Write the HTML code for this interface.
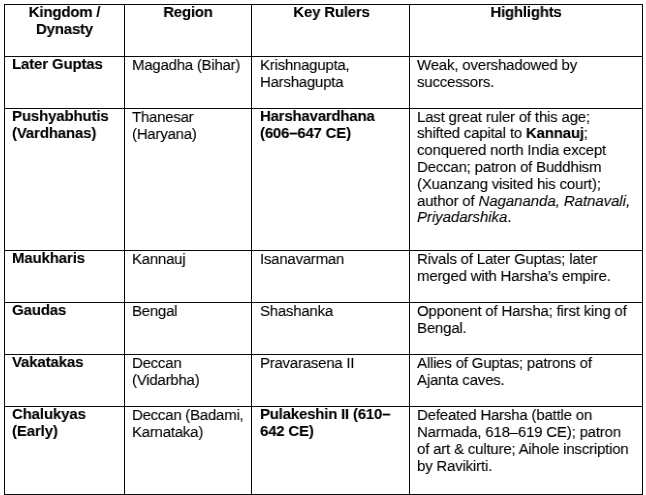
<!DOCTYPE html>
<html><head><meta charset="utf-8">
<style>
html,body{margin:0;padding:0;background:#fff;overflow:hidden;}
body{width:646px;height:495px;position:relative;overflow:hidden;font-family:"Liberation Sans",sans-serif;font-size:15.5px;line-height:17px;letter-spacing:-0.25px;color:#000;-webkit-text-stroke:0.1px #000;}
.h,.v{position:absolute;background:#0a0a0a;}
.h{left:4px;width:639px;height:1px;}
.v{top:4px;height:491px;width:1px;}
.c{position:absolute;white-space:nowrap;transform:scaleX(0.968);transform-origin:0 0;will-change:transform;}
.b{font-weight:bold;letter-spacing:-0.15px;}
.c4{letter-spacing:-0.2px;}
i{letter-spacing:-0.05px;}
.l{display:block;height:17px;}
.l16{height:16px;}
.ctr{text-align:center;transform-origin:50% 0;letter-spacing:-0.22px;}
.k{letter-spacing:-0.22px;}
</style></head><body>
<div class="h" style="top:4px"></div>
<div class="h" style="top:56px"></div>
<div class="h" style="top:108px"></div>
<div class="h" style="top:250px"></div>
<div class="h" style="top:302px"></div>
<div class="h" style="top:354px"></div>
<div class="h" style="top:406px"></div>
<div class="h" style="top:494px"></div>
<div class="v" style="left:4px"></div>
<div class="v" style="left:124px"></div>
<div class="v" style="left:251px"></div>
<div class="v" style="left:409px"></div>
<div class="v" style="left:642px"></div>

<!-- header -->
<div class="c b ctr" style="left:5.4px;width:119px;top:3px">Kingdom /<br>Dynasty</div>
<div class="c b ctr" style="left:125px;width:126px;top:3px">Region</div>
<div class="c b ctr" style="left:253.3px;width:157px;top:3px">Key Rulers</div>
<div class="c b ctr" style="left:410px;width:232px;top:3px">Highlights</div>

<!-- row 1 -->
<div class="c b" style="left:12px;top:55px">Later Guptas</div>
<div class="c" style="left:132px;top:56px">Magadha (Bihar)</div>
<div class="c" style="left:260px;top:56px">Krishnagupta,<br>Harshagupta</div>
<div class="c c4" style="left:417px;top:56px">Weak, overshadowed by<br>successors.</div>

<!-- row 2 -->
<div class="c b" style="left:12px;top:107px">Pushyabhutis<br>(Vardhanas)</div>
<div class="c" style="left:132px;top:108px">Thanesar<br>(Haryana)</div>
<div class="c b k" style="left:260px;top:107px">Harshavardhana<br>(606–647 CE)</div>
<div class="c c4" style="left:417px;top:108px"><span class="l l16">Last great ruler of this age;</span><span class="l">shifted capital to <b>Kannauj</b>;</span><span class="l">conquered north India except</span><span class="l">Deccan; patron of Buddhism</span><span class="l">(Xuanzang visited his court);</span><span class="l l16">author of <i>Nagananda, Ratnavali,</i></span><span class="l"><i>Priyadarshika</i>.</span></div>

<!-- row 3 -->
<div class="c b" style="left:12px;top:249px">Maukharis</div>
<div class="c" style="left:132px;top:250px">Kannauj</div>
<div class="c" style="left:260px;top:250px">Isanavarman</div>
<div class="c c4" style="left:417px;top:250px">Rivals of Later Guptas; later<br>merged with Harsha’s empire.</div>

<!-- row 4 -->
<div class="c b" style="left:12px;top:301px">Gaudas</div>
<div class="c" style="left:132px;top:302px">Bengal</div>
<div class="c" style="left:260px;top:302px">Shashanka</div>
<div class="c c4" style="left:417px;top:302px">Opponent of Harsha; first king of<br>Bengal.</div>

<!-- row 5 -->
<div class="c b" style="left:12px;top:353px">Vakatakas</div>
<div class="c" style="left:132px;top:354px">Deccan<br>(Vidarbha)</div>
<div class="c" style="left:260px;top:354px">Pravarasena II</div>
<div class="c c4" style="left:417px;top:354px">Allies of Guptas; patrons of<br>Ajanta caves.</div>

<!-- row 6 -->
<div class="c b" style="left:12px;top:405px">Chalukyas<br>(Early)</div>
<div class="c" style="left:132px;top:406px">Deccan (Badami,<br>Karnataka)</div>
<div class="c b k" style="left:260px;top:405px">Pulakeshin II (610–<br>642 CE)</div>
<div class="c c4" style="left:417px;top:406px">Defeated Harsha (battle on<br>Narmada, 618–619 CE); patron<br>of art &amp; culture; Aihole inscription<br>by Ravikirti.</div>
</body></html>
